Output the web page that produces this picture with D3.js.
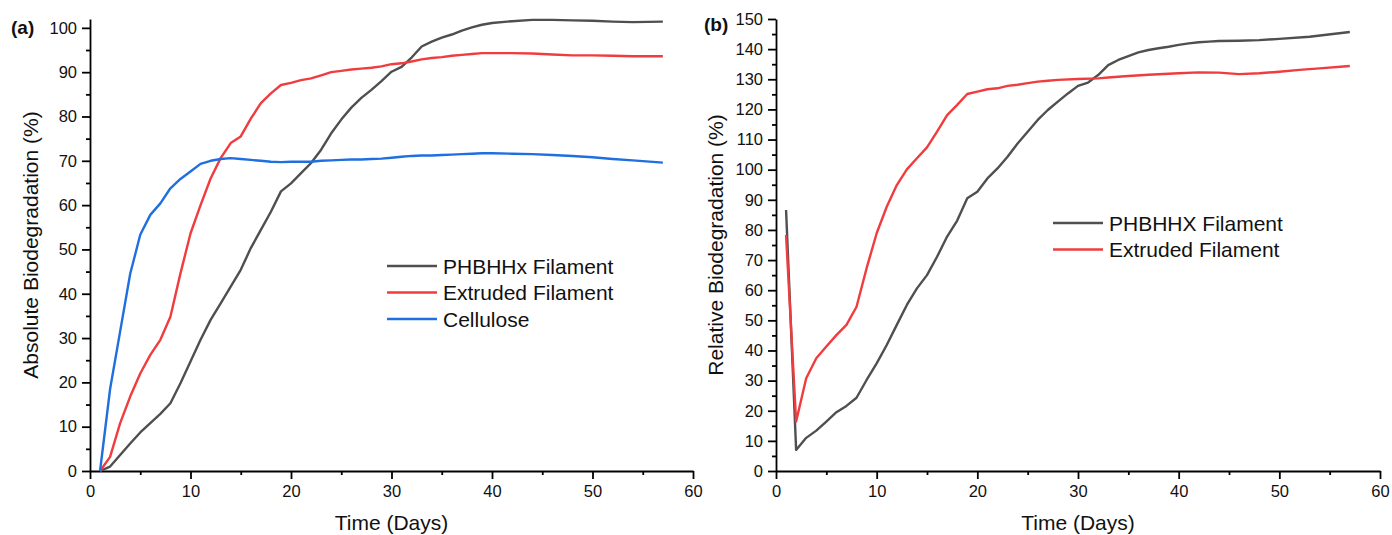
<!DOCTYPE html>
<html>
<head>
    <title>Biodegradation vs. Time</title>
    <script src="https://d3js.org/d3.v7.min.js"></script>
    <style>
        body { margin: 0; background: #fff; }
        text { font-family: "Liberation Sans", Arial, sans-serif; fill: #111; }
        .line { fill: none; stroke-width: 2.4px; stroke-linejoin: round; }
        .axis path, .axis line { stroke: #000; stroke-width: 1.8px; }
        .axis text { font-size: 16.5px; font-family: "Liberation Sans", Arial, sans-serif; fill: #111; }
        .axis-title { font-size: 21px; }
        .legend { font-size: 21px; }
        .panel-tag { font-size: 19px; font-weight: bold; }
    </style>
</head>
<body>
    <svg width="1392" height="535"></svg>
    <script>
        // panel (a) absolute biodegradation, %
        var phbAbsDays = [1,2,3,4,5,6,7,8,9,10,11,12,13,14,15,16,17,18,19,20,21,22,23,24,25,26,27,28,29,30,31,32,33,34,35,36,37,38,39,40,42,44,46,48,50,52,54,57];
        var phbAbs = [0,1,3.6,6.2,8.7,10.8,12.9,15.3,19.8,24.7,29.6,34.1,37.8,41.6,45.4,50.3,54.4,58.5,63.1,64.9,67.2,69.5,72.5,76.2,79.3,82,84.2,86,88,90.1,91.2,93.3,95.8,96.9,97.8,98.5,99.4,100.1,100.7,101.1,101.5,101.8,101.8,101.7,101.6,101.4,101.3,101.4];

        var extAbsDays = [1,2,3,4,5,6,7,8,9,10,11,12,13,14,15,16,17,18,19,20,21,22,23,24,25,26,27,28,29,30,31,32,33,34,35,36,37,38,39,40,42,44,46,48,50,52,54,57];
        var extAbs = [0,3.2,10.8,16.8,22,26.2,29.6,34.8,44.6,53.6,60,66,70.6,74,75.5,79.5,83,85.2,87.1,87.6,88.2,88.6,89.3,90,90.3,90.6,90.8,91,91.3,91.8,92,92.4,92.9,93.2,93.4,93.7,93.9,94.1,94.3,94.3,94.3,94.2,94,93.8,93.8,93.7,93.6,93.6];

        var celAbsDays = [1,2,3,4,5,6,7,8,9,10,11,12,13,14,15,16,17,18,19,20,21,22,23,24,25,26,27,28,29,30,31,32,33,34,35,36,37,38,39,40,42,44,46,48,50,52,54,57];
        var celAbs = [0,18.5,31.5,44.5,53.3,57.8,60.4,63.8,65.9,67.6,69.3,70,70.4,70.6,70.4,70.2,70,69.8,69.7,69.8,69.8,69.8,70,70.1,70.2,70.3,70.3,70.4,70.5,70.7,70.9,71.1,71.2,71.2,71.3,71.4,71.5,71.6,71.7,71.7,71.6,71.5,71.3,71.1,70.8,70.4,70.1,69.6];

        // panel (b) relative biodegradation, %
        var phbRelDays = [1,2,3,4,5,6,7,8,9,10,11,12,13,14,15,16,17,18,19,20,21,22,23,24,25,26,27,28,29,30,31,32,33,34,35,36,37,38,39,40,41,42,43,44,46,48,50,53,57];
        var phbRel = [86.6,7,11,13.4,16.4,19.5,21.6,24.3,30.2,35.7,41.8,48.5,55.1,60.6,65,71.1,77.8,83.1,90.5,92.7,97.1,100.4,104.3,108.7,112.6,116.5,119.8,122.6,125.3,127.8,128.9,131.4,134.7,136.4,137.7,138.9,139.7,140.3,140.8,141.4,141.9,142.3,142.5,142.7,142.8,143,143.4,144.1,145.7];

        var extRelDays = [1,2,3,4,5,6,7,8,9,10,11,12,13,14,15,16,17,18,19,20,21,22,23,24,25,26,27,28,30,32,33,35,37,40,42,44,46,48,50,52,54,57];
        var extRel = [78.3,16.4,30.8,37.4,41.3,45.1,48.5,54.5,67.3,78.9,87.7,94.9,100.1,103.8,107.4,112.6,118.1,121.5,125.1,125.9,126.7,127,127.8,128.2,128.7,129.2,129.5,129.8,130.1,130.3,130.6,131.1,131.5,132,132.3,132.2,131.7,132,132.5,133.1,133.6,134.4];

        var xTicks = [0,10,20,30,40,50,60];
        var colors = {phb: "#4f4f4f", ext: "#f03c3e", cel: "#1f6fe0"};

        var svg = d3.select("svg");

        function pairs(days, vals) {
            return days.map(function(d, i) { return {day: d, v: vals[i]}; });
        }

        function drawPanel(p) {
            var x = d3.scaleLinear().domain([0, 60]).range([p.left, p.right]);
            var y = d3.scaleLinear().domain([0, p.yMax]).range([p.bottom, p.top]);

            var majorY = d3.range(0, p.yTickMax + 1, 10);
            var minorY = d3.range(5, p.yTickMax, 10);
            var minorX = d3.range(5, 60, 10);

            // minor ticks
            svg.append("g").attr("class", "axis")
               .attr("transform", "translate(0," + p.bottom + ")")
               .call(d3.axisBottom(x).tickValues(minorX).tickSize(4).tickFormat(""))
               .select(".domain").remove();
            svg.append("g").attr("class", "axis")
               .attr("transform", "translate(" + p.left + ",0)")
               .call(d3.axisLeft(y).tickValues(minorY).tickSize(4).tickFormat(""))
               .select(".domain").remove();

            // major axes
            svg.append("g").attr("class", "axis")
               .attr("transform", "translate(0," + p.bottom + ")")
               .call(d3.axisBottom(x).tickValues(xTicks).tickSize(8).tickSizeOuter(0).tickPadding(6).tickFormat(d3.format("d")));
            svg.append("g").attr("class", "axis")
               .attr("transform", "translate(" + p.left + ",0)")
               .call(d3.axisLeft(y).tickValues(majorY).tickSize(8).tickSizeOuter(0).tickPadding(5).tickFormat(d3.format("d")));

            var line = d3.line()
                .x(function(d) { return x(d.day); })
                .y(function(d) { return y(d.v); });

            p.series.forEach(function(s) {
                svg.append("path")
                   .datum(s.data)
                   .attr("class", "line")
                   .attr("d", line)
                   .style("stroke", s.color);
            });

            // legend
            p.series.forEach(function(s, i) {
                var ly = p.legendY + i * 26.5;
                svg.append("line")
                   .attr("x1", p.legendX).attr("x2", p.legendX + 50)
                   .attr("y1", ly).attr("y2", ly)
                   .style("stroke", s.color).style("stroke-width", 2.4);
                svg.append("text")
                   .attr("class", "legend")
                   .attr("x", p.legendX + 56)
                   .attr("y", ly + 7.5)
                   .text(s.name);
            });

            svg.append("text")
               .attr("class", "axis-title")
               .attr("x", (p.left + p.right) / 2)
               .attr("y", 530)
               .attr("text-anchor", "middle")
               .text("Time (Days)");

            svg.append("text")
               .attr("class", "axis-title")
               .attr("transform", "translate(" + p.yTitleX + "," + ((p.top + p.bottom) / 2) + ") rotate(-90)")
               .attr("text-anchor", "middle")
               .text(p.yTitle);

            svg.append("text")
               .attr("class", "panel-tag")
               .attr("x", p.tagX)
               .attr("y", p.tagY)
               .text(p.tag);
        }

        drawPanel({
            left: 90, right: 693, top: 19, bottom: 471, yMax: 102, yTickMax: 100,
            yTitle: "Absolute Biodegradation (%)", yTitleX: 38,
            tag: "(a)", tagX: 11, tagY: 34,
            legendX: 387, legendY: 266,
            series: [
                {name: "PHBHHx Filament", color: colors.phb, data: pairs(phbAbsDays, phbAbs)},
                {name: "Extruded Filament", color: colors.ext, data: pairs(extAbsDays, extAbs)},
                {name: "Cellulose", color: colors.cel, data: pairs(celAbsDays, celAbs)}
            ]
        });

        drawPanel({
            left: 776, right: 1380, top: 19, bottom: 471, yMax: 150, yTickMax: 150,
            yTitle: "Relative Biodegradation (%)", yTitleX: 723,
            tag: "(b)", tagX: 704, tagY: 31,
            legendX: 1053, legendY: 223,
            series: [
                {name: "PHBHHX Filament", color: colors.phb, data: pairs(phbRelDays, phbRel)},
                {name: "Extruded Filament", color: colors.ext, data: pairs(extRelDays, extRel)}
            ]
        });
    </script>
</body>
</html>
